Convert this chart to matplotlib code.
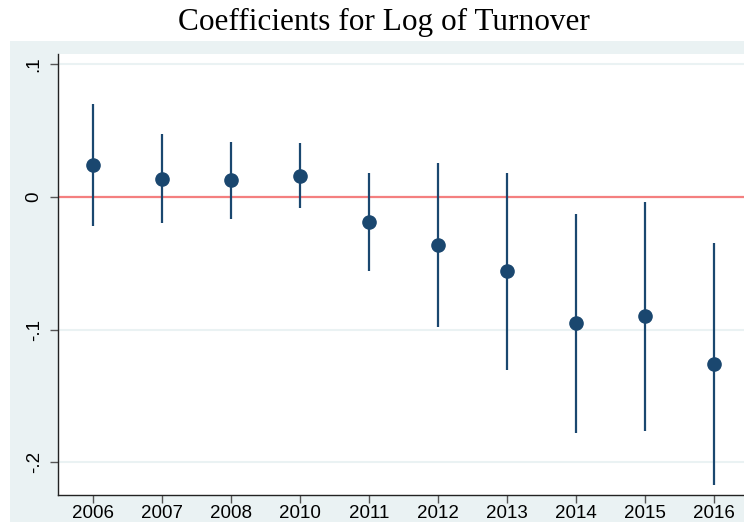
import matplotlib
matplotlib.use("Agg")
import matplotlib.pyplot as plt
from matplotlib.patches import Rectangle

# Year-by-year coefficients with 95% confidence bounds
years = ["2006", "2007", "2008", "2010", "2011", "2012", "2013", "2014", "2015", "2016"]
coef = [0.0241, 0.0139, 0.0126, 0.0158, -0.0188, -0.0359, -0.0556, -0.0948, -0.0900, -0.1260]
ci_low = [-0.0219, -0.0196, -0.0166, -0.0083, -0.0558, -0.0981, -0.1307, -0.1776, -0.1762, -0.2169]
ci_high = [0.0699, 0.0473, 0.0418, 0.0405, 0.0181, 0.0259, 0.0184, -0.0125, -0.0040, -0.0347]
yticks = [0.1, 0.0, -0.1, -0.2]
ytick_labels = [".1", "0", "-.1", "-.2"]

navy = "#1a476f"
bg = "#eaf2f3"

W, H = 744, 522
fig = plt.figure(figsize=(W / 100, H / 100), dpi=100)
fig.patch.set_facecolor("white")
fig.patches.append(Rectangle((10 / W, 0), 1 - 10 / W, (H - 41) / H,
                             transform=fig.transFigure, facecolor=bg,
                             edgecolor="none", zorder=-5))

ax = fig.add_axes([58 / W, 27 / H, 1 - 58 / W, (495 - 54) / H])
ax.set_zorder(1)
ax.set_facecolor("white")

x = list(range(len(years)))
for xi, lo, hi in zip(x, ci_low, ci_high):
    ax.plot([xi, xi], [lo, hi], color=navy, lw=1.6, solid_capstyle="butt", zorder=3)
ax.plot(x, coef, "o", color=navy, ms=9.5, zorder=4)
ax.axhline(0, color="#f47f7f", lw=1.6, zorder=2)

ax.set_xlim(-0.5, 9.43)
ax.set_ylim(-0.2247, 0.1079)
ax.set_xticks(x)
ax.set_xticklabels(years, fontsize=13.5, family="Liberation Sans")
ax.set_yticks(yticks)
ax.set_yticklabels(ytick_labels, fontsize=13.5, family="Liberation Sans",
                   rotation=90, va="center")
for yv in [0.1, -0.1, -0.2]:
    ax.axhline(yv, color=bg, lw=1.5, zorder=1)

for s in ["top", "right"]:
    ax.spines[s].set_visible(False)
for s in ["left", "bottom"]:
    ax.spines[s].set_color("#222222")
    ax.spines[s].set_linewidth(1.0)
ax.tick_params(axis="both", direction="out", length=6, width=1.0,
               color="#555555", labelcolor="black")
ax.tick_params(axis="x", pad=1.5)
ax.tick_params(axis="y", pad=5)

fig.text(384 / W, 1 - 22 / H, "Coefficients for Log of Turnover", ha="center",
         va="center", fontsize=22.5, family="Liberation Serif")

fig.savefig("out.png", dpi=100, facecolor=fig.get_facecolor())
